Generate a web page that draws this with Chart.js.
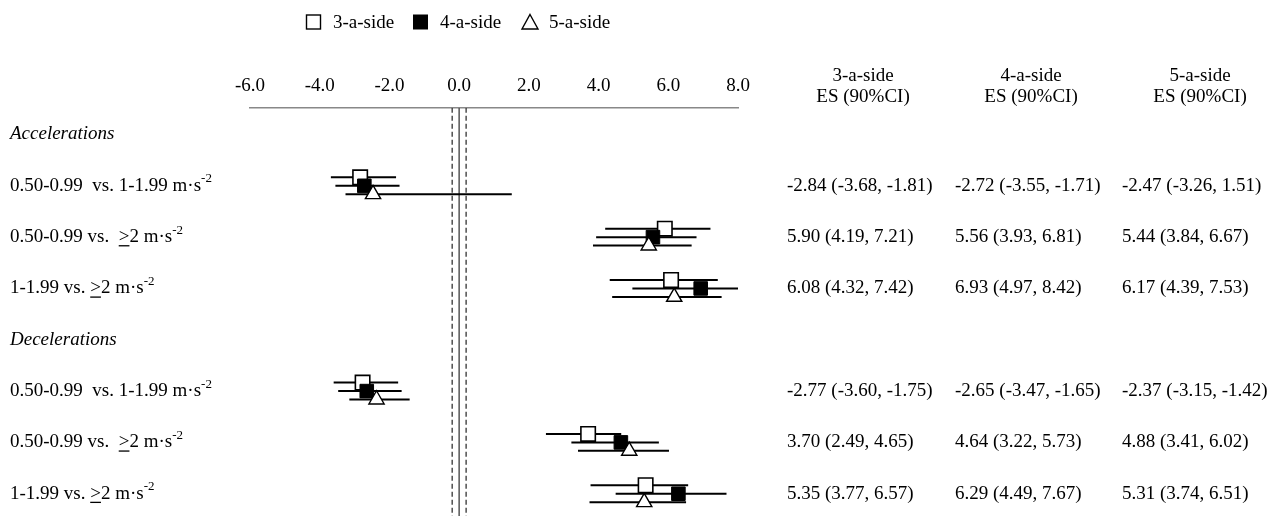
<!DOCTYPE html>
<html>
<head>
<meta charset="utf-8">
<script src="https://cdn.jsdelivr.net/npm/chart.js@4"></script>
<style>
  body { margin: 0; background: #fff; }
  canvas { display: block; }
</style>
</head>
<body>
<canvas id="c" width="1287" height="516"></canvas>
<script>
// rows: '_' marks underlined text, '^' starts a superscript
const groups = ['Accelerations', 'Decelerations'];
const groupPos = [1, 5];
const rowLabels = [
  '0.50-0.99  vs. 1-1.99 m\u00b7s^-2',
  '0.50-0.99 vs.  _>_2 m\u00b7s^-2',
  '1-1.99 vs. _>_2 m\u00b7s^-2',
  '0.50-0.99  vs. 1-1.99 m\u00b7s^-2',
  '0.50-0.99 vs.  _>_2 m\u00b7s^-2',
  '1-1.99 vs. _>_2 m\u00b7s^-2'
];
const rowPos = [2, 3, 4, 6, 7, 8];

const seriesNames = ['3-a-side', '4-a-side', '5-a-side'];
const es3 = [-2.84, 5.90, 6.08, -2.77, 3.70, 5.35];
const lo3 = [-3.68, 4.19, 4.32, -3.60, 2.49, 3.77];
const hi3 = [-1.81, 7.21, 7.42, -1.75, 4.65, 6.57];
const es4 = [-2.72, 5.56, 6.93, -2.65, 4.64, 6.29];
const lo4 = [-3.55, 3.93, 4.97, -3.47, 3.22, 4.49];
const hi4 = [-1.71, 6.81, 8.42, -1.65, 5.73, 7.67];
const es5 = [-2.47, 5.44, 6.17, -2.37, 4.88, 5.31];
const lo5 = [-3.26, 3.84, 4.39, -3.15, 3.41, 3.74];
const hi5 = [1.51, 6.67, 7.53, -1.42, 6.02, 6.51];

const xTicks = [-6, -4, -2, 0, 2, 4, 6, 8];
const refLines = [-0.2, 0, 0.2];

const FONT = "'Liberation Serif', 'Times New Roman', serif";
const yMin = 0.48, yMax = 8.434;
const offs = [-0.165, 0, 0.165];

const series = [
  { es: es3, lo: lo3, hi: hi3 },
  { es: es4, lo: lo4, hi: hi4 },
  { es: es5, lo: lo5, hi: hi5 }
];

let datasets = [];

// reference lines at 0 and +-0.2
refLines.forEach(v => {
  datasets.push({
    type: 'line',
    data: [{ x: v, y: yMin }, { x: v, y: yMax }],
    borderColor: v === 0 ? '#555' : '#333',
    borderWidth: v === 0 ? 1.5 : 1.3,
    borderDash: v === 0 ? [] : [5, 3],
    pointRadius: 0,
    order: 5
  });
});

// confidence intervals
series.forEach((s, k) => {
  s.es.forEach((e, i) => {
    datasets.push({
      type: 'line',
      data: [{ x: s.lo[i], y: rowPos[i] + offs[k] }, { x: s.hi[i], y: rowPos[i] + offs[k] }],
      borderColor: '#000',
      borderWidth: 2,
      pointRadius: 0,
      order: 4
    });
  });
});

// point estimates
const markerStyle = [
  { pointStyle: 'rect', backgroundColor: '#fff', borderColor: '#000', pointRadius: 10.2, pointBorderWidth: 1.6, order: 2 },
  { pointStyle: 'rect', backgroundColor: '#000', borderColor: '#000', pointRadius: 9.6, pointBorderWidth: 1, order: 1 },
  { pointStyle: 'triangle', backgroundColor: '#fff', borderColor: '#000', pointRadius: 8.8, pointBorderWidth: 1.4, order: 0 }
];
series.forEach((s, k) => {
  const m = markerStyle[k];
  datasets.push({
    type: 'scatter',
    label: seriesNames[k],
    data: s.es.map((e, i) => ({ x: e, y: rowPos[i] + offs[k] })),
    pointStyle: m.pointStyle,
    pointRadius: m.pointRadius,
    pointBackgroundColor: m.backgroundColor,
    pointBorderColor: m.borderColor,
    pointBorderWidth: m.pointBorderWidth,
    order: m.order
  });
});

function drawRich(ctx, str, x, y) {
  let under = false, sup = false;
  let parts = [];
  let buf = '';
  for (const ch of str) {
    if (ch === '_' || ch === '^') {
      if (buf) parts.push({ t: buf, u: under, s: sup });
      buf = '';
      if (ch === '_') under = !under; else sup = true;
    } else buf += ch;
  }
  if (buf) parts.push({ t: buf, u: under, s: sup });
  parts.forEach(p => {
    ctx.font = (p.s ? '13px ' : '19px ') + FONT;
    const w = ctx.measureText(p.t).width;
    ctx.fillText(p.t, x, p.s ? y - 7 : y);
    if (p.u) {
      ctx.fillRect(x, y + 8, w, 1.3);
    }
    x += w;
  });
}

const textPlugin = {
  id: 'forestText',
  afterDraw(chart) {
    const ctx = chart.ctx;
    const ys = chart.scales.y;
    ctx.save();
    ctx.fillStyle = '#000';
    ctx.textBaseline = 'middle';

    // legend
    const lx = [306, 413, 522];
    ctx.font = '19px ' + FONT;
    ctx.textAlign = 'left';
    seriesNames.forEach((n, k) => {
      const x = lx[k], cy = 22;
      ctx.lineWidth = 1.4;
      ctx.strokeStyle = '#000';
      if (k === 0) {
        ctx.strokeRect(x + 0.5, cy - 7, 14, 14);
      } else if (k === 1) {
        ctx.fillRect(x, cy - 7.5, 15, 15);
      } else {
        ctx.beginPath();
        ctx.moveTo(x + 8, cy - 7.5);
        ctx.lineTo(x + 16, cy + 7);
        ctx.lineTo(x, cy + 7);
        ctx.closePath();
        ctx.stroke();
      }
      ctx.fillText(n, x + 27, cy + 1);
    });

    // group headers
    ctx.font = 'italic 19px ' + FONT;
    groups.forEach((g, i) => {
      ctx.fillText(g, 10, ys.getPixelForValue(groupPos[i]));
    });

    // row labels
    rowLabels.forEach((l, i) => {
      drawRich(ctx, l, 10, ys.getPixelForValue(rowPos[i]));
    });

    // table
    const colCenter = [863, 1031, 1200];
    const colLeft = [787, 955, 1122];
    ctx.font = '19px ' + FONT;
    ctx.textAlign = 'center';
    seriesNames.forEach((n, k) => {
      ctx.fillText(n, colCenter[k], 76);
      ctx.fillText('ES (90%CI)', colCenter[k], 97);
    });
    ctx.textAlign = 'left';
    series.forEach((s, k) => {
      s.es.forEach((e, i) => {
        const txt = e.toFixed(2) + ' (' + s.lo[i].toFixed(2) + ', ' + s.hi[i].toFixed(2) + ')';
        ctx.fillText(txt, colLeft[k], ys.getPixelForValue(rowPos[i]));
      });
    });
    ctx.restore();
  }
};

new Chart(document.getElementById('c'), {
  type: 'scatter',
  data: { datasets: datasets },
  options: {
    responsive: false,
    animation: false,
    devicePixelRatio: 1,
    layout: { autoPadding: false, padding: { left: 250, right: 549, top: 65, bottom: 0 } },
    plugins: { legend: { display: false }, tooltip: { enabled: false } },
    scales: {
      x: {
        type: 'linear',
        position: 'top',
        min: -6,
        max: 8,
        afterBuildTicks: s => { s.ticks = xTicks.map(v => ({ value: v })); },
        grid: { display: false, drawTicks: false },
        border: { display: true, color: '#888', width: 1.5 },
        ticks: {
          color: '#000',
          padding: 10,
          font: { family: FONT, size: 19 },
          callback: v => v.toFixed(1)
        }
      },
      y: {
        type: 'linear',
        min: yMin,
        max: yMax,
        reverse: true,
        display: false
      }
    }
  },
  plugins: [textPlugin]
});
</script>
</body>
</html>
